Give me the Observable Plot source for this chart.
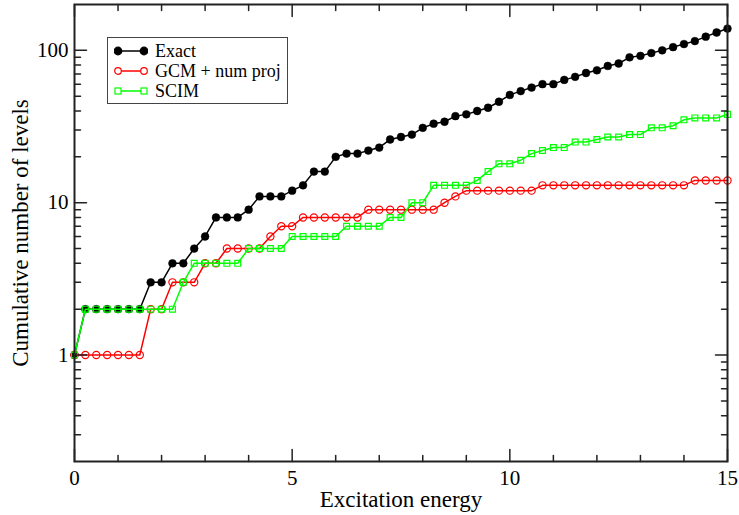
<!DOCTYPE html>
<html>
<head>
<meta charset="utf-8">
<script src="https://cdn.jsdelivr.net/npm/d3@7"></script>
<script src="https://cdn.jsdelivr.net/npm/@observablehq/plot@0.6"></script>
<style>
  html, body { margin: 0; padding: 0; background: #fff; }
  #wrap { position: relative; width: 739px; height: 515px; font-family: "Liberation Serif", "Times New Roman", serif; }
  #legend { position: absolute; left: 107px; top: 37px; width: 179px; height: 65px; border: 1.5px solid #444; background: #fff; }
  .item { position: absolute; left: 0; height: 20px; display: flex; align-items: center; }
  .item svg { margin-left: 6px; }
  .item span { margin-left: 7px; font-size: 18px; color: #000; line-height: 20px; white-space: nowrap; }
</style>
</head>
<body>
<div id="wrap"></div>
<script>
// ---- data ----
const energy = [0,0.25,0.5,0.75,1,1.25,1.5,1.75,2,2.25,2.5,2.75,3,3.25,3.5,3.75,4,4.25,4.5,4.75,5,5.25,5.5,5.75,6,6.25,6.5,6.75,7,7.25,7.5,7.75,8,8.25,8.5,8.75,9,9.25,9.5,9.75,10,10.25,10.5,10.75,11,11.25,11.5,11.75,12,12.25,12.5,12.75,13,13.25,13.5,13.75,14,14.25,14.5,14.75,15];
const exactLevels = [1,2,2,2,2,2,2,3,3,4,4,5,6,8,8,8,9,11,11,11,12,13,16,16,20,21,21,22,23,26,27,28,31,33,34,37,38,40,42,46,51,54,57,60,60,64,67,71,74,79,82,90,92,96,100,105,110,115,123,131,139];
const gcmLevels = [1,1,1,1,1,1,1,2,2,3,3,3,4,4,5,5,5,5,6,7,7,8,8,8,8,8,8,9,9,9,9,9,9,9,10,11,12,12,12,12,12,12,12,13,13,13,13,13,13,13,13,13,13,13,13,13,13,14,14,14,14];
const scimLevels = [1,2,2,2,2,2,2,2,2,2,3,4,4,4,4,4,5,5,5,5,6,6,6,6,6,7,7,7,7,8,8,10,10,13,13,13,13,14,16,18,18,19,21,22,23,23,25,25,26,27,27,28,28,31,31,32,35,36,36,36,38];
const seriesNames = ["Exact", "GCM + num proj", "SCIM"];
const xTickLabels = [0, 5, 10, 15];
const xMinorTicks = [1,2,3,4,6,7,8,9,11,12,13,14];
const yTickLabels = [1, 10, 100];
const yMinorTicks = [0.3,0.4,0.5,0.6,0.7,0.8,0.9,2,3,4,5,6,7,8,9,20,30,40,50,60,70,80,90];
const xTitle = "Excitation energy";
const yTitle = "Cumulative number of levels";

const rows = (vals) => energy.map((e, i) => ({e, v: vals[i]}));
const exact = rows(exactLevels), gcm = rows(gcmLevels), scim = rows(scimLevels);

const RED = "#ff0000", GREEN = "#00ff00";
const FONT = "Liberation Serif, Times New Roman, serif";

const tickShape = {draw(ctx, l) { ctx.moveTo(0, 0); ctx.lineTo(0, -l); }};
const tk = {shape: tickShape, anchor: "start", stroke: "#222", strokeWidth: 1.5};
const tx = (vals, anchor, rot, len) => Plot.vector(vals, {x: d => d, frameAnchor: anchor, rotate: rot, length: len, ...tk});
const ty = (vals, anchor, rot, len) => Plot.vector(vals, {y: d => d, frameAnchor: anchor, rotate: rot, length: len, ...tk});

const chart = Plot.plot({
  width: 739,
  height: 515,
  marginLeft: 74,
  marginRight: 12,
  marginTop: 4,
  marginBottom: 54,
  style: {fontFamily: FONT, fontSize: "21px", color: "#000", background: "#fff"},
  x: {domain: [0, 15]},
  y: {type: "log", domain: [0.2, 200]},
  marks: [
    Plot.line(exact, {x: "e", y: "v", stroke: "#000", strokeWidth: 1.5}),
    Plot.dot(exact, {x: "e", y: "v", r: 3.9, fill: "#000", stroke: "#000", strokeWidth: 0.5}),
    Plot.line(gcm, {x: "e", y: "v", stroke: RED, strokeWidth: 1.5}),
    Plot.dot(gcm, {x: "e", y: "v", r: 3.6, fill: "none", stroke: RED, strokeWidth: 1.2}),
    Plot.line(scim, {x: "e", y: "v", stroke: GREEN, strokeWidth: 1.5}),
    Plot.dot(scim, {x: "e", y: "v", r: 3.3, symbol: "square", fill: "none", stroke: GREEN, strokeWidth: 1.2}),
    // inward ticks on all four sides
    tx(xTickLabels, "bottom", 0, 12), tx(xMinorTicks, "bottom", 0, 6),
    tx(xTickLabels, "top", 180, 12), tx(xMinorTicks, "top", 180, 6),
    ty(yTickLabels, "left", 90, 12), ty(yMinorTicks, "left", 90, 6),
    ty(yTickLabels, "right", -90, 12), ty(yMinorTicks, "right", -90, 6),
    Plot.frame({stroke: "#222", strokeWidth: 2}),
    Plot.axisX({ticks: xTickLabels, tickSize: 0, tickPadding: 9, label: null, fontSize: 21, tickFormat: d => String(d)}),
    Plot.axisY({ticks: yTickLabels, tickSize: 0, tickPadding: 6, label: null, fontSize: 21, tickFormat: d => String(d)}),
    Plot.text([xTitle], {text: d => d, frameAnchor: "bottom", textAnchor: "middle", lineAnchor: "middle", dy: 38, fontSize: 23, fill: "#000"}),
    Plot.text([yTitle], {text: d => d, frameAnchor: "left", textAnchor: "middle", lineAnchor: "middle", dx: -54, rotate: -90, fontSize: 23, fill: "#000"})
  ]
});

const wrap = document.getElementById("wrap");
wrap.appendChild(chart);

// legend (inside the plot area, as in the reference)
const legend = document.createElement("div");
legend.id = "legend";
const specs = [
  {name: seriesNames[0], color: "#000", kind: "filled"},
  {name: seriesNames[1], color: RED, kind: "circle"},
  {name: seriesNames[2], color: GREEN, kind: "square"}
];
const tops = [3, 23, 43];
specs.forEach((s, i) => {
  const item = document.createElement("div");
  item.className = "item";
  item.style.top = tops[i] + "px";
  const ns = "http://www.w3.org/2000/svg";
  const svg = document.createElementNS(ns, "svg");
  svg.setAttribute("width", "34"); svg.setAttribute("height", "12");
  const line = document.createElementNS(ns, "line");
  line.setAttribute("x1", "4"); line.setAttribute("x2", "30"); line.setAttribute("y1", "6"); line.setAttribute("y2", "6");
  line.setAttribute("stroke", s.color); line.setAttribute("stroke-width", "1.5");
  svg.appendChild(line);
  [4, 30].forEach(cx => {
    let m;
    if (s.kind === "square") {
      m = document.createElementNS(ns, "rect");
      m.setAttribute("x", cx - 3); m.setAttribute("y", 3); m.setAttribute("width", 6); m.setAttribute("height", 6);
    } else {
      m = document.createElementNS(ns, "circle");
      m.setAttribute("cx", cx); m.setAttribute("cy", 6); m.setAttribute("r", s.kind === "filled" ? 3.8 : 3.3);
    }
    m.setAttribute("fill", s.kind === "filled" ? s.color : "#fff");
    m.setAttribute("stroke", s.color); m.setAttribute("stroke-width", "1.2");
    svg.appendChild(m);
  });
  const label = document.createElement("span");
  label.textContent = s.name;
  item.appendChild(svg); item.appendChild(label);
  legend.appendChild(item);
});
wrap.appendChild(legend);
</script>
</body>
</html>
